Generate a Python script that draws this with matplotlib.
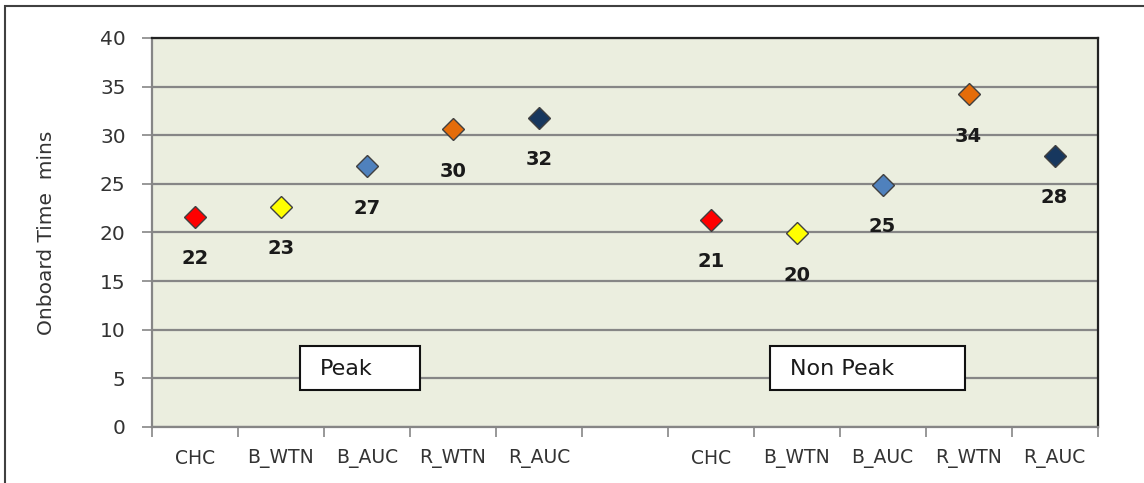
import matplotlib
matplotlib.use("Agg")
import matplotlib.pyplot as plt
from matplotlib.patches import Rectangle
from matplotlib.ticker import FixedLocator, NullFormatter

# ---- data ----
categories = ["CHC", "B_WTN", "B_AUC", "R_WTN", "R_AUC", "",
              "CHC", "B_WTN", "B_AUC", "R_WTN", "R_AUC"]
peak_values = [21.6, 22.6, 26.8, 30.6, 31.8]
peak_labels = ["22", "23", "27", "30", "32"]
nonpeak_values = [21.3, 19.9, 24.9, 34.2, 27.9]
nonpeak_labels = ["21", "20", "25", "34", "28"]
marker_colors = ["#FF0000", "#FFFF00", "#4F81BD", "#E46C0A", "#17375E"]
y_ticks = [0, 5, 10, 15, 20, 25, 30, 35, 40]
y_label = "Onboard Time  mins"
group_names = ["Peak", "Non Peak"]

W, H = 1144, 483
fig = plt.figure(figsize=(W / 100, H / 100), dpi=100)
fig.patch.set_facecolor("white")

# outer frame (extends beyond right/bottom)
fig.add_artist(Rectangle((5 / W, -0.2), 1.2, 1 - 6 / H + 0.2,
                         transform=fig.transFigure, fill=False,
                         edgecolor="#404040", linewidth=1.5))

ax = fig.add_axes([152 / W, 1 - 427 / H, (1097.5 - 152) / W, (427 - 38) / H])
ax.set_facecolor("#EBEEDF")
ax.set_xlim(-0.5, len(categories) - 0.5)
ax.set_ylim(0, 40)

ax.set_yticks(y_ticks)
ax.yaxis.grid(True, color="#868686", linewidth=1.6)
ax.set_axisbelow(True)
ax.tick_params(axis="y", length=7, width=1.2, color="#868686",
               labelsize=14.5, labelcolor="#333333", pad=12)

ax.set_xticks(range(len(categories)))
ax.set_xticklabels(categories, fontsize=13.5, color="#333333")
ax.tick_params(axis="x", which="major", length=0, pad=16)
ax.xaxis.set_minor_locator(FixedLocator([i - 0.5 for i in range(len(categories) + 1)]))
ax.xaxis.set_minor_formatter(NullFormatter())
ax.tick_params(axis="x", which="minor", length=7, width=1.2, color="#868686")

for s in ["left", "bottom"]:
    ax.spines[s].set_color("#868686")
    ax.spines[s].set_linewidth(1.6)
for s in ["top", "right"]:
    ax.spines[s].set_color("#222222")
    ax.spines[s].set_linewidth(1.6)

ax.set_ylabel(y_label, fontsize=14.5, color="#333333")
ax.yaxis.set_label_coords(-96 / (1097.5 - 152), 0.5)

groups = [(0, peak_values, peak_labels), (6, nonpeak_values, nonpeak_labels)]
for start, vals, labs in groups:
    for i, (v, lab, c) in enumerate(zip(vals, labs, marker_colors)):
        x = start + i
        ax.plot(x, v, marker="D", markersize=11, markerfacecolor=c,
                markeredgecolor="#404040", markeredgewidth=1.0, linestyle="none",
                zorder=4)
        ax.annotate(lab, (x, v), xytext=(0, -30), textcoords="offset points",
                    ha="center", va="center", fontsize=14, fontweight="bold",
                    color="#1a1a1a", zorder=5)

# group text boxes
box_specs = [(group_names[0], 300, 420), (group_names[1], 770, 965)]
for name, x0, x1 in box_specs:
    fig.add_artist(Rectangle((x0 / W, 1 - 390 / H), (x1 - x0) / W, 44 / H,
                             transform=fig.transFigure, facecolor="white",
                             edgecolor="#111111", linewidth=1.5, zorder=6))
    fig.text((x0 + 20) / W, 1 - 369 / H, name, ha="left", va="center",
             fontsize=16, color="#1a1a1a", zorder=7)

fig.savefig("out.png", dpi=100)
